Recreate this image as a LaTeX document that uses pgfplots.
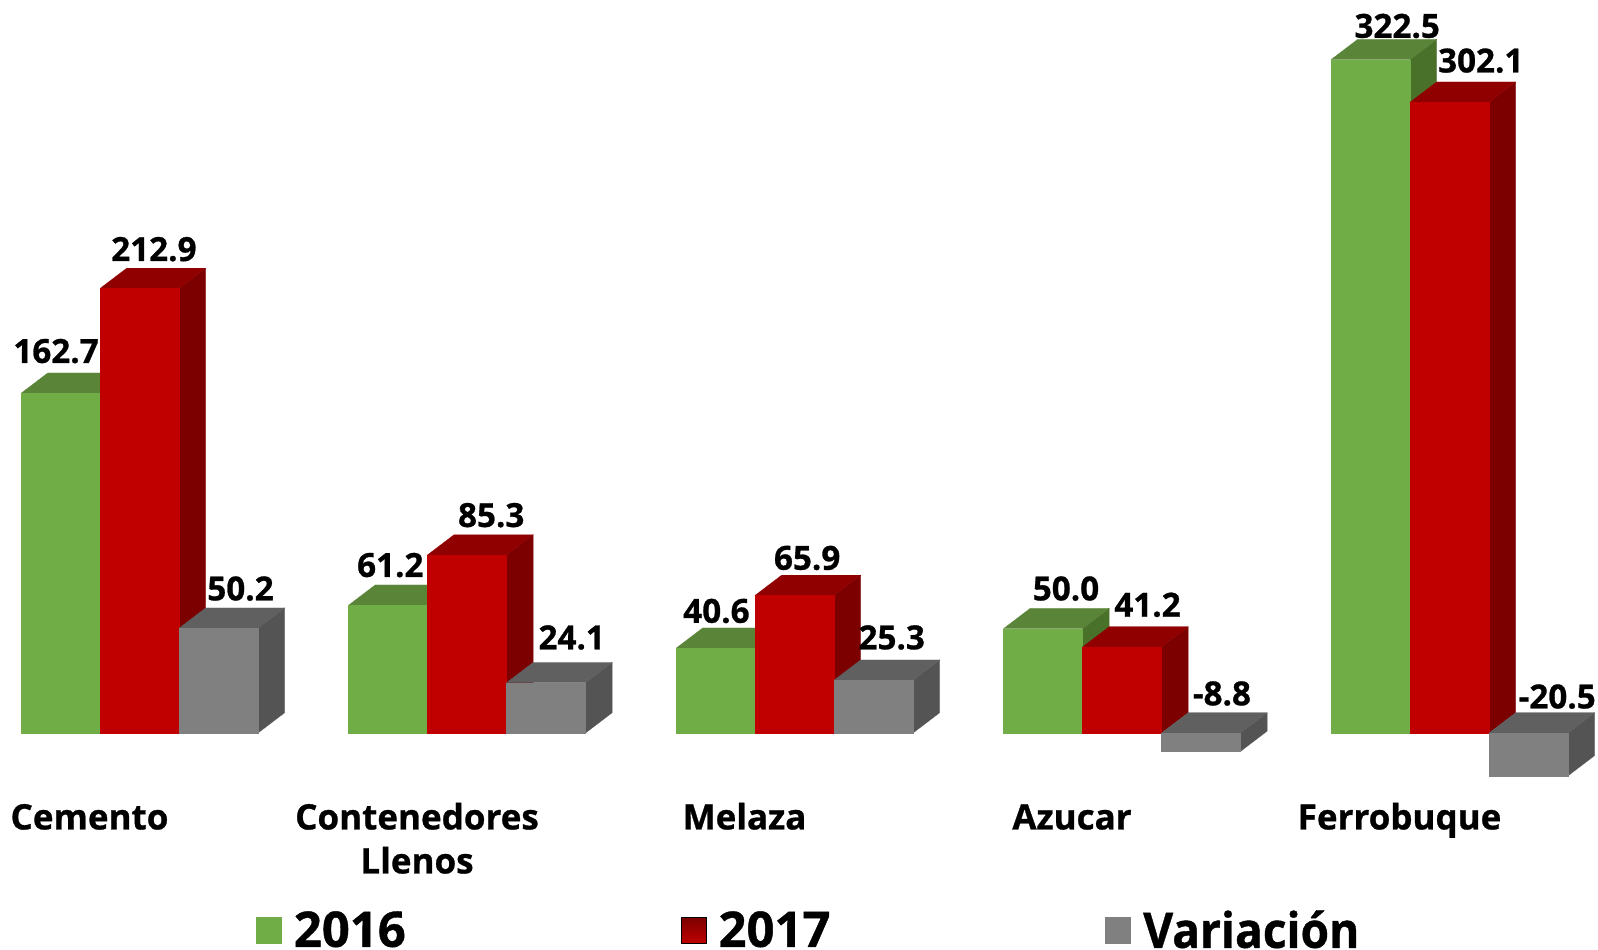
\documentclass[border=0pt]{standalone}
\usepackage{graphicx}
\usepackage{fontspec}
\setmainfont{Open Sans}[BoldFeatures={FakeBold=0.8}]
\usepackage{pgfplots}
\pgfplotsset{compat=1.18}
\definecolor{gfront}{HTML}{70AD47}
\definecolor{gtop}{HTML}{5A8438}
\definecolor{gside}{HTML}{4A7129}
\definecolor{rfront}{HTML}{C00000}
\definecolor{rtop}{HTML}{900000}
\definecolor{rside}{HTML}{7C0000}
\definecolor{vfront}{HTML}{808080}
\definecolor{vtop}{HTML}{606060}
\definecolor{vside}{HTML}{545454}
\tikzset{lab/.style={font=\fontsize{16.6}{18}\selectfont\bfseries,inner sep=0pt,anchor=center}}
% bar geometry in category units / data units
\def\bw{0.24122}
\def\dx{0.08153}
\def\dy{9.72}
% left edge, value, colour prefix
\newcommand{\boxbar}[3]{%
  \pgfmathsetmacro{\xa}{#1}%
  \pgfmathsetmacro{\xb}{#1+\bw}%
  \pgfmathsetmacro{\xc}{#1+\bw+\dx}%
  \pgfmathsetmacro{\xd}{#1+\dx}%
  \pgfmathsetmacro{\yh}{max(#2,0)}%
  \pgfmathsetmacro{\yl}{min(#2,0)}%
  \pgfmathsetmacro{\yt}{\yh+\dy}%
  \pgfmathsetmacro{\ylb}{\yl+\dy}%
  \addplot[forget plot,draw=#3side,fill=#3side,line width=0.1pt] coordinates {(\xb,\yl) (\xc,\ylb) (\xc,\yt) (\xb,\yh)} -- cycle;
  \addplot[forget plot,draw=#3top,fill=#3top,line width=0.1pt] coordinates {(\xa,\yh) (\xb,\yh) (\xc,\yt) (\xd,\yt)} -- cycle;
  \addplot[forget plot,draw=#3front,fill=#3front,line width=0.1pt] coordinates {(\xa,\yl) (\xb,\yl) (\xb,\yh) (\xa,\yh)} -- cycle;
}
% category index, 2016, 2017, variation
\newcommand{\bargroup}[4]{%
  \boxbar{#1-0.20916}{#2}{g}%
  \boxbar{#1-0.20916+\bw}{#3}{r}%
  \boxbar{#1-0.20916+2*\bw}{#4}{v}%
}
% label centre in pixels of the 1568 wide view
\newcommand{\lab}[3]{%
  \pgfmathsetmacro{\lx}{(#1*1.0191-89.5)/327.5}%
  \pgfmathsetmacro{\ly}{(733-(#2+0.5)*1.0191)/2.088}%
  \edef\next{\noexpand\node[lab] at (axis cs:\lx,\ly) {#3};}\next
}
\newcommand{\st}{\rule{0pt}{14pt}}
\begin{document}
\begin{tikzpicture}
\path[use as bounding box] (0,0) rectangle (799pt,474.5pt);
\begin{axis}[
  at={(0pt,77pt)},anchor=south west,
  scale only axis,width=799pt,height=397.5pt,
  xmin=-0.27328,xmax=4.6061,
  ymin=-29.69,ymax=351.05,
  clip=false,
  axis line style={draw=none},
  tick style={draw=none},
  ytick=\empty,
  xtick={0,1,2,3,4},
  xticklabels={\st Cemento,{\st Contenedores\\Llenos},\st Melaza,\st Azucar,\st Ferrobuque},
  xticklabel style={font=\fontsize{17.5}{22}\selectfont\bfseries,align=center,anchor=north,inner sep=0pt,yshift=-3pt},
  legend columns=3,
  legend style={draw=none,fill=none,at={(0.160,-0.2015)},anchor=south west,inner sep=0pt,
    font=\fontsize{24.5}{24.5}\selectfont\bfseries,
    /tikz/every odd column/.append style={column sep=4pt},
    /tikz/every even column/.append style={column sep=135.5pt}},
]
\addlegendimage{legend image code/.code={\fill[gfront] (0pt,-6.5pt) rectangle (12.5pt,6.5pt);}}
\addlegendentry{2016}
\addlegendimage{legend image code/.code={\shade[top color=rside,bottom color=rfront] (0pt,-6.5pt) rectangle (12.5pt,6.5pt);}}
\addlegendentry{2017}
\addlegendimage{legend image code/.code={\fill[vfront] (0pt,-6.5pt) rectangle (12.5pt,6.5pt);}}
\addlegendentry{\scalebox{0.94}[1]{Variación}}

\bargroup{0}{162.7}{212.9}{50.2}
\bargroup{1}{61.2}{85.3}{24.1}
\bargroup{2}{40.6}{65.9}{25.3}
\bargroup{3}{50.0}{41.2}{-8.8}
\bargroup{4}{322.5}{302.1}{-20.5}

\lab{55}{344}{162.7}
\lab{151}{244}{212.9}
\lab{236}{577}{50.2}
\lab{383}{554}{61.2}
\lab{482}{505}{85.3}
\lab{561}{625}{24.1}
\lab{703}{599}{40.6}
\lab{792}{547}{65.9}
\lab{875}{625}{25.3}
\lab{1046}{577}{50.0}
\lab{1126}{593}{41.2}
\lab{1199}{680}{-8.8}
\lab{1371}{25}{322.5}
\lab{1453}{59}{302.1}
\lab{1528}{683}{-20.5}
\end{axis}
\end{tikzpicture}
\end{document}
